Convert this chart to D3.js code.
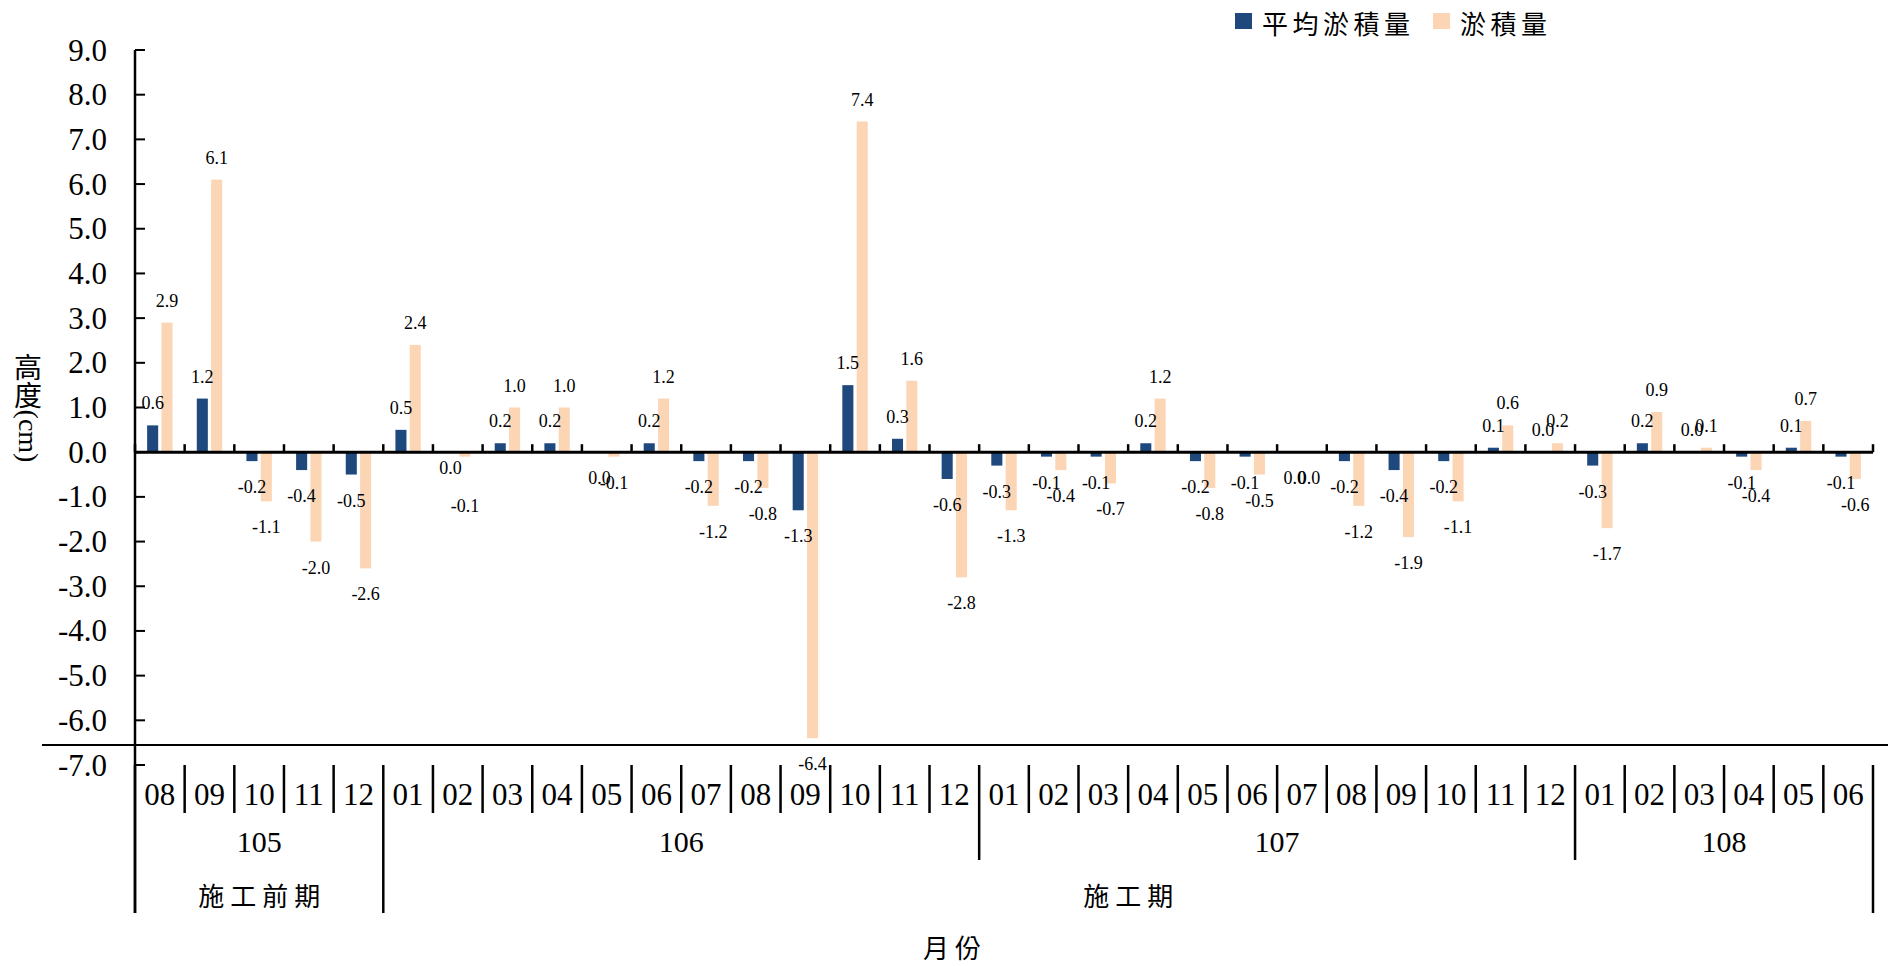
<!DOCTYPE html>
<html>
<head>
<meta charset="utf-8">
<script src="https://cdn.jsdelivr.net/npm/d3@7"></script>
<style>
  html, body { margin: 0; padding: 0; background: #fff; }
  svg { display: block; }
</style>
</head>
<body>
<svg id="chart" width="1895" height="966"></svg>
<script>
// Month labels along the category axis (105/08 .. 108/06)
const monthLabels = [
  "08","09","10","11","12",
  "01","02","03","04","05","06","07","08","09","10","11","12",
  "01","02","03","04","05","06","07","08","09","10","11","12",
  "01","02","03","04","05","06"
];
// Year groups and how many months each spans
const yearLabels = ["105", "106", "107", "108"];
const yearSpans  = [5, 12, 12, 6];
// Construction phases and how many months each spans
const periodLabels = ["施工前期", "施工期"];
const periodSpans  = [5, 30];

// Series values (cm). -0.0 marks a value that rounds to zero from below,
// so its label sits under the axis.
const avgDeposit = [
  0.6, 1.2, -0.2, -0.4, -0.5,
  0.5, -0.0, 0.2, 0.2, -0.0, 0.2, -0.2, -0.2, -1.3, 1.5, 0.3, -0.6,
  -0.3, -0.1, -0.1, 0.2, -0.2, -0.1, -0.0, -0.2, -0.4, -0.2, 0.1, 0.0,
  -0.3, 0.2, 0.0, -0.1, 0.1, -0.1
];
const deposit = [
  2.9, 6.1, -1.1, -2.0, -2.6,
  2.4, -0.1, 1.0, 1.0, -0.1, 1.2, -1.2, -0.8, -6.4, 7.4, 1.6, -2.8,
  -1.3, -0.4, -0.7, 1.2, -0.8, -0.5, -0.0, -1.2, -1.9, -1.1, 0.6, 0.2,
  -1.7, 0.9, 0.1, -0.4, 0.7, -0.6
];
const seriesNames  = ["平均淤積量", "淤積量"];
const seriesColors = ["#1F497D", "#FCD5B5"];
const yTicks = [-7, -6, -5, -4, -3, -2, -1, 0, 1, 2, 3, 4, 5, 6, 7, 8, 9];

const svg = d3.select("#chart");
const serif = "'Liberation Serif', 'Times New Roman', serif";
const cjk = "'Noto Sans CJK TC', 'Noto Sans CJK SC', sans-serif";

const plotLeft = 135, plotRight = 1873;
const x = d3.scaleBand().domain(d3.range(monthLabels.length)).range([plotLeft, plotRight]);
const y = d3.scaleLinear().domain([-7, 9]).range([765, 50]);
const inner = d3.scaleBand().domain([0, 1]).range([-12.7, 12.7]).paddingInner(0.23);

const isBelow = v => v < 0 || Object.is(v, -0);
const series = [avgDeposit, deposit];

// Hand-placed label shifts (series-index : month-index -> px) where two labels collide
const labelShift = { "0:6": -10, "1:6": 23 };

// Bars
series.forEach((vals, si) => {
  svg.append("g").selectAll("rect")
    .data(vals)
    .join("rect")
    .attr("x", (d, i) => x(i) + x.bandwidth() / 2 + inner(si))
    .attr("width", inner.bandwidth())
    .attr("y", d => y(Math.max(0, d)))
    .attr("height", d => Math.abs(y(d) - y(0)))
    .attr("fill", seriesColors[si]);
});

// Value labels
series.forEach((vals, si) => {
  svg.append("g").selectAll("text")
    .data(vals)
    .join("text")
    .attr("x", (d, i) => x(i) + x.bandwidth() / 2 + inner(si) + inner.bandwidth() / 2)
    .attr("y", (d, i) => (isBelow(d) ? y(d) + 32 : y(d) - 16) + (labelShift[si + ":" + i] || 0))
    .attr("text-anchor", "middle")
    .attr("font-family", serif)
    .attr("font-size", 18)
    .attr("fill", "#000")
    .text(d => d.toFixed(1));
});

// Value axis with inward ticks
const yAxisG = svg.append("g");
yAxisG.append("line")
  .attr("x1", plotLeft).attr("x2", plotLeft)
  .attr("y1", y(9)).attr("y2", 913)
  .attr("stroke", "#000").attr("stroke-width", 2.5);
yAxisG.selectAll("line.tick")
  .data(yTicks)
  .join("line")
  .attr("class", "tick")
  .attr("x1", plotLeft).attr("x2", plotLeft + 10)
  .attr("y1", d => y(d)).attr("y2", d => y(d))
  .attr("stroke", "#000").attr("stroke-width", 2);
yAxisG.selectAll("text")
  .data(yTicks)
  .join("text")
  .attr("x", 107)
  .attr("y", d => y(d) + 10.5)
  .attr("text-anchor", "end")
  .attr("font-family", serif)
  .attr("font-size", 31)
  .text(d => d.toFixed(1));

// Zero line with tick marks on month boundaries
const boundaries = d3.range(monthLabels.length + 1).map(i => plotLeft + i * x.step());
svg.append("line")
  .attr("x1", plotLeft).attr("x2", plotRight)
  .attr("y1", y(0)).attr("y2", y(0))
  .attr("stroke", "#000").attr("stroke-width", 3);
svg.append("g").selectAll("line")
  .data(boundaries)
  .join("line")
  .attr("x1", d => d).attr("x2", d => d)
  .attr("y1", y(0)).attr("y2", y(0) - 8)
  .attr("stroke", "#000").attr("stroke-width", 2.5);

// Rule separating the plot from the category table
svg.append("line")
  .attr("x1", 42).attr("x2", 1888)
  .attr("y1", 745).attr("y2", 745)
  .attr("stroke", "#000").attr("stroke-width", 2);

// Category table: months, years, construction phases
const rowTop = y(-7);
const monthBottom = 813, yearBottom = 860, periodBottom = 913;

function cumulativeEdges(spans) {
  let acc = 0;
  return [0].concat(spans.map(s => (acc += s)));
}
const yearEdges = cumulativeEdges(yearSpans);
const periodEdges = cumulativeEdges(periodSpans);

svg.append("g").selectAll("line")
  .data(boundaries)
  .join("line")
  .attr("x1", d => d).attr("x2", d => d)
  .attr("y1", rowTop).attr("y2", (d, i) =>
    periodEdges.includes(i) ? periodBottom : (yearEdges.includes(i) ? yearBottom : monthBottom))
  .attr("stroke", "#000").attr("stroke-width", 2.5);

svg.append("g").selectAll("text")
  .data(monthLabels)
  .join("text")
  .attr("x", (d, i) => x(i) + x.bandwidth() / 2)
  .attr("y", 805)
  .attr("text-anchor", "middle")
  .attr("font-family", serif)
  .attr("font-size", 31)
  .text(d => d);

svg.append("g").selectAll("text")
  .data(yearLabels)
  .join("text")
  .attr("x", (d, i) => (boundaries[yearEdges[i]] + boundaries[yearEdges[i + 1]]) / 2)
  .attr("y", 852)
  .attr("text-anchor", "middle")
  .attr("font-family", serif)
  .attr("font-size", 30)
  .text(d => d);

svg.append("g").selectAll("text")
  .data(periodLabels)
  .join("text")
  .attr("x", (d, i) => (boundaries[periodEdges[i]] + boundaries[periodEdges[i + 1]]) / 2 + 3)
  .attr("y", 894)
  .attr("dominant-baseline", "central")
  .attr("text-anchor", "middle")
  .attr("font-family", cjk)
  .attr("font-size", 26)
  .attr("letter-spacing", 6)
  .text(d => d);

// Axis titles
svg.append("text")
  .attr("x", 955).attr("y", 946)
  .attr("dominant-baseline", "central")
  .attr("text-anchor", "middle")
  .attr("font-family", cjk)
  .attr("font-size", 26)
  .attr("letter-spacing", 6)
  .text("月份");

svg.append("text")
  .attr("x", 28).attr("y", 408)
  .attr("text-anchor", "middle")
  .style("writing-mode", "vertical-rl")
  .attr("font-family", cjk)
  .attr("font-size", 28)
  .text("高度")
  .append("tspan")
  .attr("font-family", serif)
  .text("(cm)");

// Legend
const legendItems = [
  { name: seriesNames[0], color: seriesColors[0], sx: 1235, tx: 1262 },
  { name: seriesNames[1], color: seriesColors[1], sx: 1433, tx: 1460 }
];
const lg = svg.append("g").selectAll("g").data(legendItems).join("g");
lg.append("rect")
  .attr("x", d => d.sx).attr("y", 13)
  .attr("width", 17).attr("height", 16)
  .attr("fill", d => d.color);
lg.append("text")
  .attr("x", d => d.tx).attr("y", 22)
  .attr("dominant-baseline", "central")
  .attr("font-family", cjk)
  .attr("font-size", 26)
  .attr("letter-spacing", 4.5)
  .text(d => d.name);
</script>
</body>
</html>
